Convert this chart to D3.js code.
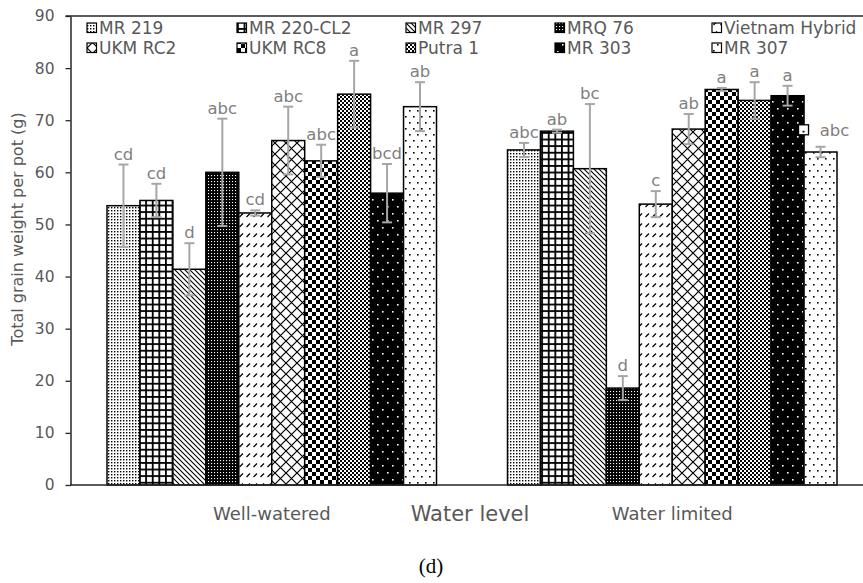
<!DOCTYPE html>
<html>
<head>
<meta charset="utf-8">
<script src="https://cdn.jsdelivr.net/npm/d3@7"></script>
<style>
  body { margin: 0; background: #fff; }
  text { font-family: "DejaVu Sans", sans-serif; }
</style>
</head>
<body>
<div id="app"></div>
<script>
const categories = ["Well-watered", "Water limited"];
const varieties = ["MR 219", "MR 220-CL2", "MR 297", "MRQ 76", "Vietnam Hybrid",
  "UKM RC2", "UKM RC8", "Putra 1", "MR 303", "MR 307"];
const wellWatered = [53.6, 54.6, 41.4, 60.0, 52.2, 66.1, 62.2, 75.0, 56.0, 72.6];
const wellWateredErr = [7.9, 3.2, 5.0, 10.3, 0.5, 6.5, 3.1, 6.4, 5.6, 4.7];
const wellWateredLetters = ["cd", "cd", "d", "abc", "cd", "abc", "abc", "a", "bcd", "ab"];
const waterLimited = [64.3, 67.9, 60.7, 18.6, 53.9, 68.3, 75.9, 73.8, 74.7, 63.9];
const waterLimitedErr = [1.35, 0.3, 12.4, 2.3, 2.5, 2.9, 0.3, 3.5, 1.9, 1.0];
const waterLimitedLetters = ["abc", "ab", "bc", "d", "c", "ab", "a", "a", "a", "abc"];
const yTicks = [0, 10, 20, 30, 40, 50, 60, 70, 80, 90];

const w = 863;
const h = 583;
const gray = "#595959";

const rows = [];
categories.forEach((c, ci) => {
  const vals = ci === 0 ? wellWatered : waterLimited;
  const errs = ci === 0 ? wellWateredErr : waterLimitedErr;
  const lets = ci === 0 ? wellWateredLetters : waterLimitedLetters;
  varieties.forEach((v, i) => {
    rows.push({ cat: c, variety: v, idx: i, value: vals[i], err: errs[i], letter: lets[i] });
  });
});

const svg = d3.select("#app").append("svg").attr("width", w).attr("height", h);

// patterns
const defs = svg.append("defs");
function pat(id, pw, ph, bg, draw) {
  const p = defs.append("pattern").attr("id", id)
    .attr("patternUnits", "userSpaceOnUse").attr("width", pw).attr("height", ph);
  p.append("rect").attr("width", pw).attr("height", ph).attr("fill", bg);
  draw(p);
}
const ids = varieties.map((d, i) => "p" + i);
pat(ids[0], 3, 3, "#fff", (p) => {
  p.append("rect").attr("x", 0).attr("y", 0).attr("width", 1.4).attr("height", 1.4).attr("fill", "#000");
});
pat(ids[1], 6.6, 6.6, "#fff", (p) => {
  p.append("rect").attr("x", 0).attr("y", 0).attr("width", 1.8).attr("height", 6.6).attr("fill", "#000");
  p.append("rect").attr("x", 0).attr("y", 0).attr("width", 6.6).attr("height", 1.8).attr("fill", "#000");
});
pat(ids[2], 5, 5, "#fff", (p) => {
  p.append("path").attr("d", "M-1,-1L6,6M-1,4L1,6M4,-1L6,1").attr("stroke", "#000").attr("stroke-width", 1.1);
});
pat(ids[3], 3, 3, "#000", (p) => {
  p.append("rect").attr("x", 1).attr("y", 1).attr("width", 1.1).attr("height", 1.1).attr("fill", "#fff");
});
pat(ids[4], 7, 10, "#fff", (p) => {
  p.append("path").attr("d", "M1.5,7L5,3.5")
    .attr("stroke", "#000").attr("stroke-width", 1.3);
});
pat(ids[5], 11, 11, "#fff", (p) => {
  p.append("path").attr("d", "M0,0L11,11M11,0L0,11").attr("stroke", "#000").attr("stroke-width", 1.2);
});
pat(ids[6], 8, 8, "#fff", (p) => {
  p.append("rect").attr("x", 0).attr("y", 0).attr("width", 4).attr("height", 4).attr("fill", "#000");
  p.append("rect").attr("x", 4).attr("y", 4).attr("width", 4).attr("height", 4).attr("fill", "#000");
});
pat(ids[7], 4, 4, "#fff", (p) => {
  p.append("rect").attr("x", 0).attr("y", 0).attr("width", 2).attr("height", 2).attr("fill", "#000");
  p.append("rect").attr("x", 2).attr("y", 2).attr("width", 2).attr("height", 2).attr("fill", "#000");
});
pat(ids[8], 10, 14, "#000", (p) => {
  p.append("rect").attr("x", 2).attr("y", 3).attr("width", 1.6).attr("height", 1.6).attr("fill", "#fff");
  p.append("rect").attr("x", 7).attr("y", 10).attr("width", 1.6).attr("height", 1.6).attr("fill", "#fff");
});
pat(ids[9], 8, 12, "#fff", (p) => {
  p.append("rect").attr("x", 1).attr("y", 2).attr("width", 1.6).attr("height", 1.6).attr("fill", "#000");
  p.append("rect").attr("x", 5).attr("y", 8).attr("width", 1.6).attr("height", 1.6).attr("fill", "#000");
});

// scales
const y = d3.scaleLinear().domain([0, 90]).range([485, 16]);
const x0 = d3.scaleBand().domain(categories).range([71.5, 872.5]);
const pad = 35.5;
const x1 = d3.scaleBand().domain(varieties).range([pad, x0.bandwidth() - pad]);

// y axis
const yAxis = svg.append("g").attr("transform", "translate(70.5,0)")
  .call(d3.axisLeft(y).tickValues(yTicks).tickSize(5).tickSizeOuter(0).tickPadding(11));
yAxis.select(".domain").attr("stroke", "#262626").attr("stroke-width", 1.5);
yAxis.selectAll(".tick line").attr("stroke", "#262626").attr("stroke-width", 1.3);
yAxis.selectAll(".tick text").attr("fill", gray).style("font-size", "15.5px")
  .style("font-family", "'DejaVu Sans', sans-serif");

// top border
svg.append("line").attr("x1", 65.5).attr("x2", w).attr("y1", y(90)).attr("y2", y(90))
  .attr("stroke", "#262626").attr("stroke-width", 1.5);

// y title
svg.append("text")
  .attr("transform", `translate(23,229) rotate(-90)`)
  .attr("text-anchor", "middle")
  .attr("fill", gray)
  .style("font-size", "16px")
  .text("Total grain weight per pot (g)");

// bars
const bx = (d) => x0(d.cat) + x1(d.variety);
svg.append("g").selectAll("rect")
  .data(rows)
  .join("rect")
  .attr("x", bx)
  .attr("y", (d) => y(d.value))
  .attr("width", x1.bandwidth())
  .attr("height", (d) => y(0) - y(d.value))
  .attr("fill", (d) => `url(#${ids[d.idx]})`)
  .attr("stroke", "#000")
  .attr("stroke-width", 1.5);

// x axis
svg.append("line").attr("x1", 70).attr("x2", w).attr("y1", y(0)).attr("y2", y(0))
  .attr("stroke", "#262626").attr("stroke-width", 1.5);

// error bars
const eb = svg.append("g").attr("stroke", "#a6a6a6").attr("stroke-width", 2);
const cx = (d) => bx(d) + x1.bandwidth() / 2;
eb.selectAll(".v").data(rows).join("line")
  .attr("x1", cx).attr("x2", cx)
  .attr("y1", (d) => y(d.value + d.err)).attr("y2", (d) => y(d.value - d.err));
eb.selectAll(".t").data(rows).join("line")
  .attr("x1", (d) => cx(d) - 5).attr("x2", (d) => cx(d) + 5)
  .attr("y1", (d) => y(d.value + d.err)).attr("y2", (d) => y(d.value + d.err));
eb.selectAll(".b").data(rows).join("line")
  .attr("x1", (d) => cx(d) - 5).attr("x2", (d) => cx(d) + 5)
  .attr("y1", (d) => y(d.value - d.err)).attr("y2", (d) => y(d.value - d.err));

// letters (last one in water limited sits off to the side)
const isOdd = (d) => d.cat === "Water limited" && d.idx === 9;
svg.append("g").selectAll("text")
  .data(rows)
  .join("text")
  .attr("x", (d) => cx(d) + (isOdd(d) ? 14 : 0))
  .attr("y", (d) => y(d.value + d.err) - (isOdd(d) ? 11 : 5))
  .attr("text-anchor", "middle")
  .attr("fill", "#7f7f7f")
  .style("font-size", "16.5px")
  .text((d) => d.letter);

// stray key box next to that letter
const odd = rows.find(isOdd);
svg.append("rect")
  .attr("x", cx(odd) - 22).attr("y", y(odd.value + odd.err) - 22)
  .attr("width", 10).attr("height", 10)
  .attr("fill", "#fff").attr("stroke", "#000").attr("stroke-width", 1.3);
svg.append("rect")
  .attr("x", cx(odd) - 18).attr("y", y(odd.value + odd.err) - 16)
  .attr("width", 2).attr("height", 1.6).attr("fill", "#000");

// category labels
svg.append("g").selectAll("text")
  .data(categories)
  .join("text")
  .attr("x", (d) => x0(d) + x0.bandwidth() / 2)
  .attr("y", 520)
  .attr("text-anchor", "middle")
  .attr("fill", gray)
  .style("font-size", "18px")
  .text((d) => d);

svg.append("text")
  .attr("x", (x0(categories[0]) + x0(categories[1]) + x0.bandwidth()) / 2 - 2)
  .attr("y", 521)
  .attr("text-anchor", "middle")
  .attr("fill", gray)
  .style("font-size", "21px")
  .text("Water level");

svg.append("text")
  .attr("x", 431)
  .attr("y", 573)
  .attr("text-anchor", "middle")
  .attr("fill", "#000")
  .style("font-family", "'Liberation Serif', 'Times New Roman', serif")
  .style("font-size", "21px")
  .text("(d)");

// legend
const legX = [87, 237, 406, 555, 712];
const legY = [28, 48];
const leg = svg.append("g").selectAll("g")
  .data(varieties)
  .join("g")
  .attr("transform", (d, i) => `translate(${legX[i % 5]},${legY[Math.floor(i / 5)]})`);
leg.append("rect")
  .attr("x", 0).attr("y", -5).attr("width", 9.5).attr("height", 9.5)
  .attr("fill", (d, i) => `url(#${ids[i]})`)
  .attr("stroke", "#000").attr("stroke-width", 1.2);
leg.append("text")
  .attr("x", 12).attr("y", 6)
  .attr("fill", gray)
  .style("font-size", "17px")
  .text((d) => d);
</script>
</body>
</html>
